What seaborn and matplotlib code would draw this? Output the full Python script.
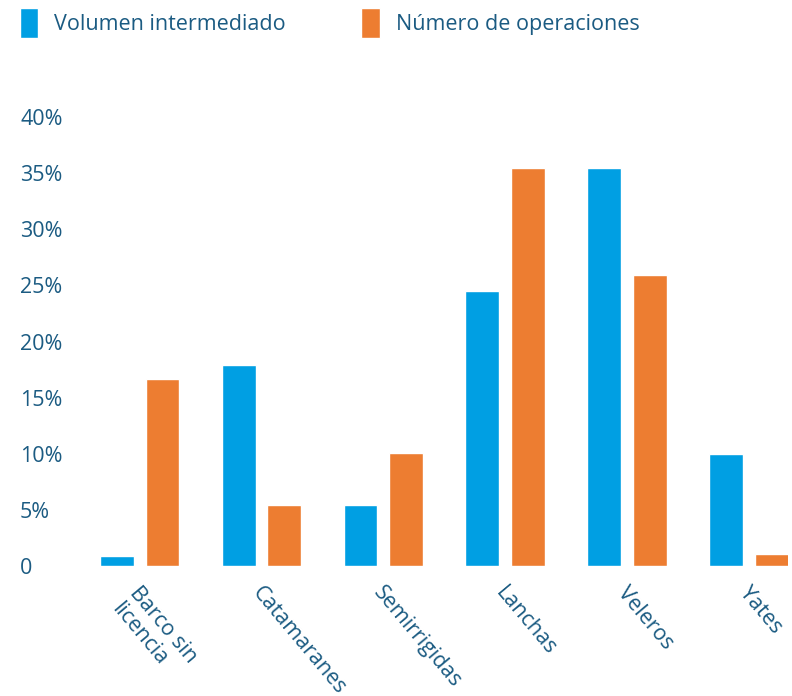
import pandas as pd
import seaborn as sns
import matplotlib.pyplot as plt
from matplotlib.transforms import ScaledTranslation

# --- datos ---
CATEGORIAS = ["Barco sin\nlicencia", "Catamaranes", "Semirrigidas", "Lanchas", "Veleros", "Yates"]
VOLUMEN = [0.9, 17.9, 5.4, 24.5, 35.5, 10.0]
OPERACIONES = [16.7, 5.4, 10.1, 35.5, 25.9, 1.1]
SERIES = ["Volumen intermediado", "Número de operaciones"]
Y_TICKS = [0, 5, 10, 15, 20, 25, 30, 35, 40]
Y_TICK_LABELS = ["0", "5%", "10%", "15%", "20%", "25%", "30%", "35%", "40%"]

# --- estilo ---
AZUL = "#009FE3"
NARANJA = "#ED7D31"
TEXTO = "#1B5B82"

sns.set_style("white")
plt.rcParams["font.family"] = ["Open Sans", "DejaVu Sans"]

df = pd.DataFrame({
    "categoria": CATEGORIAS * 2,
    "valor": VOLUMEN + OPERACIONES,
    "serie": [SERIES[0]] * len(CATEGORIAS) + [SERIES[1]] * len(CATEGORIAS),
})

fig = plt.figure(figsize=(7.92, 6.96), dpi=100)
ax = fig.add_axes([68 / 792, 130 / 696, 720 / 792, 449 / 696])

sns.barplot(
    data=df, x="categoria", y="valor", hue="serie", order=CATEGORIAS,
    hue_order=SERIES, palette=[AZUL, NARANJA], width=0.75, gap=0.26,
    saturation=1, ax=ax,
)

ax.set_xlim(-0.589, 5.322)
ax.set_ylim(0, 40)
ax.set_yticks(Y_TICKS)
ax.set_yticklabels(Y_TICK_LABELS)
ax.set_xlabel("")
ax.set_ylabel("")
sns.despine(ax=ax, left=True, bottom=True)
ax.tick_params(axis="both", length=0, labelsize=15.5, labelcolor=TEXTO)
ax.tick_params(axis="y", pad=34.5)
for t in ax.get_yticklabels():
    t.set_horizontalalignment("left")
ax.tick_params(axis="x", pad=12)
desplaza = ScaledTranslation(2 / 100, 0, fig.dpi_scale_trans)
for t in ax.get_xticklabels():
    t.set_rotation(-50)
    t.set_horizontalalignment("left")
    t.set_verticalalignment("top")
    t.set_rotation_mode("anchor")
    t.set_transform(t.get_transform() + desplaza)

sns.move_legend(
    ax, "upper left", bbox_to_anchor=(20 / 792, 1 - 8 / 696),
    bbox_transform=fig.transFigure, ncol=2, frameon=False, title=None,
    fontsize=15.5, handlelength=0.85, handleheight=1.75, handletextpad=0.75,
    columnspacing=3.5, borderpad=0, borderaxespad=0,
)
for txt in ax.get_legend().get_texts():
    txt.set_color(TEXTO)

fig.savefig("out.png", dpi=100)
